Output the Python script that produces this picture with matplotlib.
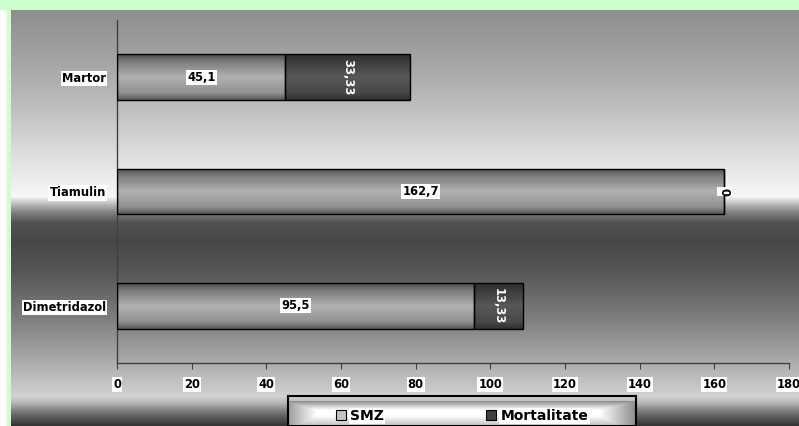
import numpy as np
import matplotlib
matplotlib.use("Agg")
import matplotlib.pyplot as plt
from matplotlib.patches import Patch, Rectangle

categories = ["Martor", "Tiamulin", "Dimetridazol"]
smz = [45.1, 162.7, 95.5]
mortalitate = [33.33, 0, 13.33]
smz_labels = ["45,1", "162,7", "95,5"]
mort_labels = ["33,33", "0", "13,33"]
series_names = ["SMZ", "Mortalitate"]
xticks = [0, 20, 40, 60, 80, 100, 120, 140, 160, 180]

W, H = 799, 426
fig = plt.figure(figsize=(W / 100, H / 100), dpi=100)
FONT = dict(family="DejaVu Sans", weight="bold")
FS = 8.3

# ---- background ----
bg = fig.add_axes([0, 0, 1, 1], zorder=-10)
bg.set_axis_off()
kp_y = [0, 10, 60, 110, 150, 185, 196, 203, 212, 222, 240, 270, 320, 360, 385, 396, 402, 410, 418, 426]
kp_v = [0x8e, 0x8e, 0xa4, 0xc0, 0xdc, 0xf0, 0xf8, 0xc0, 0x80, 0x52, 0x47, 0x55, 0x80, 0xaa, 0xc6, 0xd0, 0xb8, 0x80, 0x55, 0x30]
prof = np.interp(np.arange(H), kp_y, kp_v) / 255.0
img = np.repeat(prof[:, None], W, axis=1)
rgb = np.dstack([img, img, img])
green = np.array([0xcc, 0xff, 0xcc]) / 255.0
rgb[:10, :, :] = green
rgb[10:, 0:7, :] = 1.0
rgb[10:, 7:11, :] = green
bg.imshow(rgb, extent=[0, W, H, 0], aspect="auto", interpolation="bilinear")
bg.set_xlim(0, W)
bg.set_ylim(H, 0)

# ---- main axes ----
left, right, top, bottom = 117, 789, 20, 363
ax = fig.add_axes([left / W, 1 - bottom / H, (right - left) / W, (bottom - top) / H])
ax.patch.set_alpha(0)

ypos = np.arange(len(categories))
bh = 0.4
b1 = ax.barh(ypos, smz, height=bh, color="none", edgecolor="black", linewidth=1.0, zorder=3)
b2 = ax.barh(ypos, mortalitate, left=smz, height=bh, color="none", edgecolor="black", linewidth=1.0, zorder=3)

def grad(vals_t, vals_v):
    t = np.linspace(0, 1, 64)
    g = np.interp(t, vals_t, vals_v) / 255.0
    g = np.repeat(g[:, None], 4, axis=1)
    return np.dstack([g, g, g])

g1 = grad([0, 0.15, 0.5, 0.85, 1], [0x4c, 0x7a, 0xb2, 0x90, 0x5a])
g2 = grad([0, 0.15, 0.5, 0.85, 1], [0x2c, 0x3c, 0x58, 0x48, 0x30])
for bars, g in ((b1, g1), (b2, g2)):
    for p in bars:
        x0, y0 = p.get_x(), p.get_y()
        w, h = p.get_width(), p.get_height()
        if w <= 0:
            continue
        im = ax.imshow(g, extent=[x0, x0 + w, y0 + h, y0], origin="upper",
                       aspect="auto", interpolation="bilinear", zorder=2)
        im.set_clip_path(p)

ax.set_xlim(0, 180)
ax.set_ylim(2.5, -0.5)
ax.set_xticks(xticks)
ax.set_xticklabels([str(v) for v in xticks])
ax.set_yticks(ypos)
ax.set_yticklabels(categories)
for sp in ("top", "right"):
    ax.spines[sp].set_visible(False)
for sp in ("left", "bottom"):
    ax.spines[sp].set_color("#404040")
    ax.spines[sp].set_linewidth(1.0)
ax.tick_params(axis="x", length=4, color="#404040", pad=7)
ax.tick_params(axis="y", length=0, pad=8)
for lab in ax.get_xticklabels() + ax.get_yticklabels():
    lab.set_fontfamily(FONT["family"])
    lab.set_fontweight("bold")
    lab.set_fontsize(FS)
    lab.set_bbox(dict(facecolor="white", edgecolor="none", pad=0.8))

# ---- data labels ----
for i in range(len(categories)):
    ax.text(smz[i] / 2, ypos[i], smz_labels[i], ha="center", va="center", fontsize=FS,
            color="black", bbox=dict(facecolor="white", edgecolor="none", pad=0.8), zorder=5, **FONT)
    xm = smz[i] + mortalitate[i] / 2
    if mortalitate[i] > 0:
        ax.text(xm, ypos[i], mort_labels[i], ha="center", va="center", fontsize=FS,
                color="white", rotation=270, zorder=5, **FONT)
    else:
        ax.text(xm, ypos[i], mort_labels[i], ha="center", va="center", fontsize=FS,
                color="black", rotation=270, zorder=5,
                bbox=dict(facecolor="white", edgecolor="none", pad=0.5), **FONT)

# ---- legend ----
lx0, lx1, ly0, ly1 = 288, 636, 401, 426
lax = fig.add_axes([lx0 / W, 0, (lx1 - lx0) / W, (ly1 - ly0) / H], zorder=5)
lax.set_axis_off()
ty = np.interp(np.linspace(0, 1, 32), [0, 0.35, 0.6, 1], [0x90, 0xff, 0xff, 0xc0])
tx = np.interp(np.linspace(0, 1, 128), [0, 0.08, 0.9, 1], [0xa0, 0xff, 0xff, 0x90])
lg = np.minimum(ty[:, None], tx[None, :]) / 255.0
lax.imshow(np.dstack([lg, lg, lg]), extent=[0, 1, 0, 1], aspect="auto", interpolation="bilinear")
lax.add_patch(Rectangle((0, 0), 1, 1.2, transform=lax.transAxes, fill=False,
                        edgecolor="black", linewidth=1.5, clip_on=False))
lax.set_xlim(0, 1)
lax.set_ylim(0, 1)
handles = [Patch(facecolor="#c4c4c4", edgecolor="black", linewidth=0.8),
           Patch(facecolor="#404040", edgecolor="black", linewidth=0.8)]
leg = lax.legend(handles, series_names, loc="center", bbox_to_anchor=(0.5, 0.4),
                 ncol=2, frameon=False, handlelength=0.72, handleheight=0.72,
                 handletextpad=0.3, columnspacing=7.4, borderaxespad=0, borderpad=0,
                 prop=dict(family="DejaVu Sans", weight="bold", size=10))
for t in leg.get_texts():
    t.set_bbox(dict(facecolor="white", edgecolor="none", pad=0.8))

fig.savefig("out.png", dpi=100)
